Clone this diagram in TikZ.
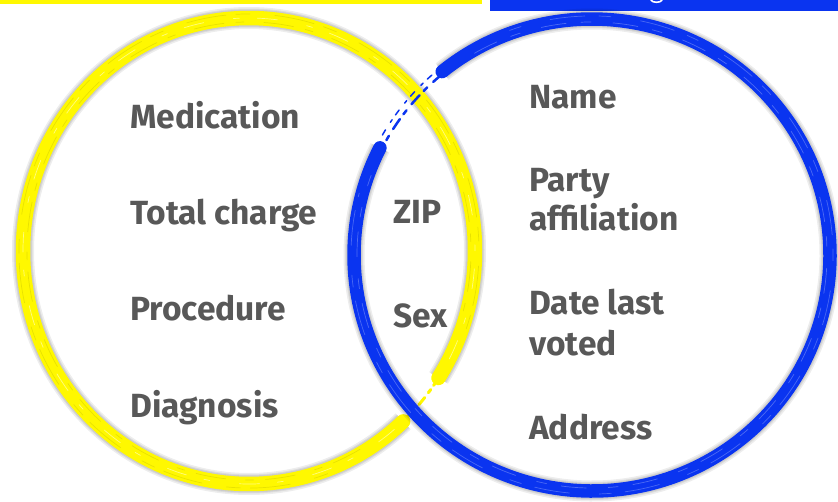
\documentclass[tikz,border=0pt]{standalone}
\usepackage{fontspec}
\setmainfont{Fira Sans}
\usetikzlibrary{calc}
\definecolor{penyellow}{RGB}{255,248,0}
\definecolor{penblue}{RGB}{10,52,240}
\definecolor{labelgray}{RGB}{88,88,88}
\tikzset{
  lbl/.style={anchor=base west, inner sep=0pt, text=labelgray,
    font=\fontsize{33.5}{40}\selectfont\bfseries},
  halo/.style={draw=black, line width=#1, opacity=0.07},
  brush/.style={line width=14.5pt, line cap=round},
  streak/.style={line width=0.7pt, line cap=round},
}
\begin{document}
\begin{tikzpicture}[x=1pt, y=-1pt]
  \useasboundingbox (0,0) rectangle (838,501);
  \fill[white] (0,0) rectangle (838,501);

  % header bars
  \fill[penyellow] (0,0) rectangle (482,3.5);
  \fill[penblue] (490,0) rectangle (838,11);
  \draw[white, line width=1.6pt, line cap=round] (651,0.2) .. controls (653,3) and (660,3) .. (662,0.2);

  % ---------- left ring (yellow) ----------
  \coordinate (yc) at (249,251);
  \foreach \w in {22,19,17} {
    \draw[halo=\w pt] ([shift={(47:226 and 233)}]yc) arc [start angle=47, end angle=393, x radius=226, y radius=233];
  }
  \draw[penyellow, brush] ([shift={(47:226 and 233)}]yc)
    arc [start angle=47, end angle=393, x radius=226, y radius=233];
  \draw[penyellow, line width=3pt, line cap=round, dash pattern=on 9pt off 5pt on 4pt off 6pt]
    ([shift={(33:226 and 233)}]yc) arc [start angle=33, end angle=47, x radius=226, y radius=233];
  % bristle streaks
  \draw[streak, penyellow!80!black, opacity=0.45, dash pattern=on 30pt off 12pt on 8pt off 20pt]
    ([shift={(60:222 and 229)}]yc) arc [start angle=60, end angle=380, x radius=222, y radius=229];
  \draw[streak, penyellow!75!black, opacity=0.35, dash pattern=on 14pt off 25pt on 40pt off 10pt]
    ([shift={(70:230 and 237)}]yc) arc [start angle=70, end angle=385, x radius=230, y radius=237];
  \draw[streak, white, opacity=0.5, dash pattern=on 20pt off 30pt on 6pt off 18pt]
    ([shift={(50:226 and 233)}]yc) arc [start angle=50, end angle=390, x radius=226, y radius=233];

  % ---------- right ring (blue) ----------
  \coordinate (bc) at (592,255);
  \foreach \w in {21,18,16} {
    \draw[halo=\w pt] ([shift={(231:238 and 236)}]bc) arc [start angle=231, end angle=567, x radius=238, y radius=236];
  }
  \draw[penblue, brush, line width=13.5pt] ([shift={(231:238 and 236)}]bc)
    arc [start angle=231, end angle=567, x radius=238, y radius=236];
  \draw[penblue, line width=2.5pt, line cap=round, dash pattern=on 12pt off 6pt on 5pt off 8pt]
    ([shift={(205:236 and 234)}]bc) arc [start angle=205, end angle=232, x radius=236, y radius=234];
  \draw[penblue, line width=1.5pt, line cap=round, dash pattern=on 6pt off 9pt on 3pt off 6pt]
    ([shift={(210:242 and 240)}]bc) arc [start angle=210, end angle=236, x radius=242, y radius=240];
  % bristle streaks
  \draw[streak, penblue!55!white, opacity=0.6, dash pattern=on 25pt off 15pt on 10pt off 22pt]
    ([shift={(240:235 and 233)}]bc) arc [start angle=240, end angle=560, x radius=235, y radius=233];
  \draw[streak, penblue!50!white, opacity=0.5, dash pattern=on 12pt off 30pt on 35pt off 14pt]
    ([shift={(250:241 and 239)}]bc) arc [start angle=250, end angle=555, x radius=241, y radius=239];

  % ---------- labels ----------
  \node[lbl] (med)  at (130,128) {Medication};
  \node[lbl] (tot)  at (130,224) {Total charge};
  \node[lbl] (proc) at (130,320) {Procedure};
  \node[lbl] (diag) at (130,417) {Diagnosis};

  \node[lbl] (zip) at (393,223) {ZIP};
  \node[lbl] (sex) at (393,327) {Sex};

  \node[lbl] (name)  at (529,108) {Name};
  \node[lbl] (party) at (529,191) {Party};
  \node[lbl] (affil) at (529,230) {affiliation};
  \node[lbl] (date)  at (529,314) {Date last};
  \node[lbl] (voted) at (529,355) {voted};
  \node[lbl] (addr)  at (529,439) {Address};
\end{tikzpicture}
\end{document}
